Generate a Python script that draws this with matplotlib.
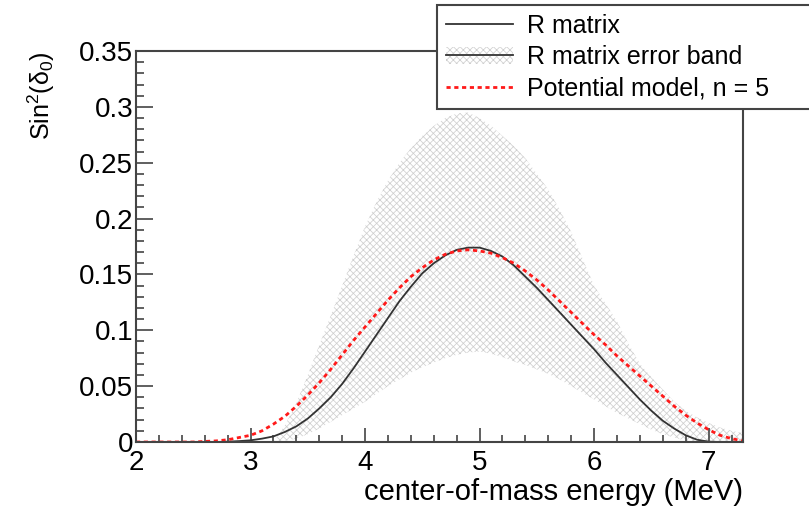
import numpy as np
import matplotlib
matplotlib.use("Agg")
import matplotlib.pyplot as plt
from matplotlib.patches import Patch
from matplotlib.lines import Line2D
from matplotlib.ticker import MultipleLocator

plt.rcParams['font.family'] = ['Liberation Sans', 'DejaVu Sans']
plt.rcParams['mathtext.fontset'] = 'custom'
plt.rcParams['mathtext.rm'] = 'Liberation Sans'
plt.rcParams['mathtext.it'] = 'Liberation Sans:italic'
plt.rcParams['hatch.linewidth'] = 0.55

# energy grid (MeV)
energy = np.round(np.arange(2.0, 7.31, 0.1), 1)

r_matrix = [0, 0, 0, 0, 0, 0, 0, 0,
            0.0003, 0.0008, 0.0015, 0.003, 0.005, 0.009, 0.014, 0.021, 0.030, 0.040,
            0.052, 0.066, 0.081, 0.096, 0.111, 0.126, 0.139, 0.151, 0.160, 0.167,
            0.172, 0.174, 0.174, 0.171, 0.166, 0.158, 0.148, 0.138, 0.127, 0.116,
            0.105, 0.094, 0.083, 0.071, 0.060, 0.049, 0.038, 0.028, 0.019, 0.012,
            0.006, 0.002, 0.0003, 0, 0, 0]

potential = [0, 0, 0, 0, 0, 0, 0.0005, 0.001,
             0.002, 0.004, 0.006, 0.010, 0.016, 0.023, 0.032, 0.042, 0.053, 0.065,
             0.078, 0.091, 0.103, 0.115, 0.127, 0.138, 0.148, 0.156, 0.163, 0.168,
             0.171, 0.172, 0.171, 0.169, 0.165, 0.160, 0.153, 0.145, 0.136, 0.126,
             0.116, 0.106, 0.096, 0.087, 0.077, 0.068, 0.059, 0.050, 0.041, 0.032,
             0.024, 0.017, 0.011, 0.006, 0.003, 0.001]

band_upper = [0, 0, 0, 0, 0, 0, 0, 0,
              0, 0, 0, 0, 0.0, 0.015, 0.035, 0.060, 0.087, 0.113,
              0.140, 0.167, 0.193, 0.215, 0.234, 0.250, 0.263, 0.274, 0.283, 0.290,
              0.294, 0.295, 0.290, 0.283, 0.274, 0.265, 0.254, 0.240, 0.226, 0.208,
              0.188, 0.164, 0.140, 0.124, 0.108, 0.088, 0.070, 0.058, 0.047, 0.036,
              0.028, 0.022, 0.017, 0.013, 0.010, 0.008]

band_lower = [0, 0, 0, 0, 0, 0, 0, 0,
              0, 0, 0, 0, 0, 0.001, 0.003, 0.007, 0.012, 0.018,
              0.024, 0.030, 0.036, 0.043, 0.050, 0.056, 0.062, 0.067, 0.071, 0.075,
              0.078, 0.080, 0.081, 0.079, 0.076, 0.072, 0.069, 0.065, 0.061, 0.056,
              0.050, 0.044, 0.038, 0.032, 0.026, 0.021, 0.016, 0.011, 0.007, 0.004,
              0.001, 0, 0, 0, 0, 0]

x_ticklabels = ["2", "3", "4", "5", "6", "7"]
y_ticklabels = ["0", "0.05", "0.1", "0.15", "0.2", "0.25", "0.3", "0.35"]
labels = ["R matrix", "R matrix error band", "Potential model, n = 5"]

W, H = 809, 511
fig = plt.figure(figsize=(W / 100, H / 100), dpi=100)
ax = fig.add_axes([136 / W, 1 - 442 / H, (743 - 136) / W, (442 - 51) / H])

spine_col = '#444444'
hatch_col = '#cfcfcf'
line_col = '#333333'
red_col = '#ff1a1a'

ax.fill_between(energy, band_lower, band_upper,
                facecolor='none', edgecolor=hatch_col, hatch='xxxxx', linewidth=0)
ax.plot(energy, r_matrix, color=line_col, lw=1.3)
ax.plot(energy, potential, color=red_col, lw=2.0, dashes=(1.5, 1.3))

ax.set_xlim(2, 7.3)
ax.set_ylim(0, 0.35)
ax.set_xticks(np.arange(2, 7.01, 1))
ax.set_xticklabels(x_ticklabels)
ax.xaxis.set_minor_locator(MultipleLocator(0.2))
ax.set_yticks(np.arange(0, 0.351, 0.05))
ax.set_yticklabels(y_ticklabels)
ax.yaxis.set_minor_locator(MultipleLocator(0.01))
ax.tick_params(which='both', direction='in', top=False, right=False,
               color=spine_col, width=1.2)
ax.tick_params(axis='y', which='major', length=12, labelsize=20, pad=2)
ax.tick_params(axis='y', which='minor', length=6)
ax.tick_params(axis='x', which='major', length=10, labelsize=20, pad=6)
ax.tick_params(axis='x', which='minor', length=5)
for s in ax.spines.values():
    s.set_color(spine_col)
    s.set_linewidth(1.5)

ax.set_xlabel("center-of-mass energy (MeV)", fontsize=21, loc='right', labelpad=1)
ax.set_ylabel(r"Sin$^{\mathregular{2}}$(δ$_{\mathregular{0}}$)", fontsize=18,
              loc='top', labelpad=16)

h_line = Line2D([], [], color=line_col, lw=1.3)
h_band = (Patch(facecolor='none', edgecolor=hatch_col, hatch='xxxxx', linewidth=0),
          Line2D([], [], color=line_col, lw=1.3))
h_pot = Line2D([], [], color=red_col, lw=2.0, dashes=(1.5, 1.3))

leg = fig.legend([h_line, h_band, h_pot], labels, loc='upper left',
                 bbox_to_anchor=(437 / W, 1 - 108 / H, 420 / W, 103 / H),
                 mode='expand', borderaxespad=0, fontsize=18,
                 handlelength=2.7, handletextpad=0.55, labelspacing=0.3,
                 borderpad=0.35, fancybox=False, framealpha=1)
leg.get_frame().set_edgecolor(spine_col)
leg.get_frame().set_linewidth(1.5)

fig.savefig("out.png", dpi=100)
